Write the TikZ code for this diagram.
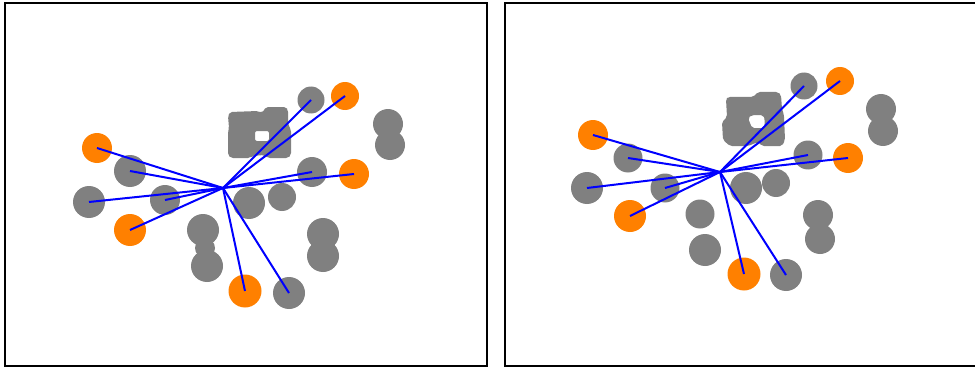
\documentclass[tikz,border=0pt]{standalone}
\definecolor{dotorange}{RGB}{255,128,0}
\definecolor{dotgray}{RGB}{128,128,128}
\definecolor{linkblue}{RGB}{0,0,255}

\begin{document}
\begin{tikzpicture}[x=1pt, y=-1pt]
    % Define styles
    \tikzstyle{pick} = [circle, fill=dotorange, inner sep=0pt, minimum size=30pt]
    \tikzstyle{cell} = [circle, fill=dotgray, inner sep=0pt, minimum size=30pt]
    \tikzstyle{ring} = [fill=dotgray, even odd rule, rounded corners=2pt]
    \tikzstyle{frame} = [draw=black, line width=2.5pt]
    \tikzstyle{relation} = [draw=linkblue, line width=2pt]

    \useasboundingbox (0,0) rectangle (975,369);

    % Frames
    \draw[frame] (5,3) rectangle (487,366);
    \draw[frame] (975,3) -- (505,3) -- (505,366) -- (975,366);

    % Left panel: gray cells
    \node[cell, minimum size=27pt] (lcell1) at (311,100) {};
    \path[ring] (228,116) -- (230,112) -- (258,111) -- (262,113) -- (266,107)
        -- (286,107) -- (288,110) -- (288,124) -- (291,130) -- (291,155)
        -- (288,158) -- (268,158) -- (264,155) -- (252,156) -- (250,158)
        -- (231,158) -- (228,155) -- (228,132) -- (229,128) -- cycle
        (255,131) -- (269,131) -- (269,141) -- (255,141) -- cycle;
    \node[cell] (lcell3a) at (388,124) {};
    \node[cell] (lcell3b) at (390,145) {};
    \node[cell] (lcell4) at (312,172) {};
    \node[cell, minimum size=32pt] (lcell5a) at (249,203) {};
    \node[cell, minimum size=28pt] (lcell5b) at (282,197) {};
    \node[cell, minimum size=32pt] (lcell6a) at (323,234) {};
    \node[cell, minimum size=32pt] (lcell6b) at (323,256) {};
    \node[cell, minimum size=32pt] (lcell7) at (289,293) {};
    \node[cell, minimum size=32pt] (lcell8a) at (203,230) {};
    \node[cell, minimum size=20pt] (lcell8n) at (205,248) {};
    \node[cell, minimum size=32pt] (lcell8b) at (207,266) {};
    \node[cell] (lcell9) at (165,200) {};
    \node[cell, minimum size=32pt] (lcell10) at (130,171) {};
    \node[cell, minimum size=32pt] (lcell11) at (89,202) {};

    % Left panel: orange picks
    \node[pick, minimum size=28pt] (lpick1) at (345,96) {};
    \node[pick] (lpick2) at (97,148) {};
    \node[pick] (lpick3) at (354,174) {};
    \node[pick, minimum size=32pt] (lpick4) at (130,230) {};
    \node[pick, minimum size=33pt] (lpick5) at (245,291) {};

    \coordinate (lhub) at (223,188);

    % Left panel: links
    \draw[relation] (lhub) -- (lpick1.center);
    \draw[relation] (lhub) -- (lpick2.center);
    \draw[relation] (lhub) -- (lpick3.center);
    \draw[relation] (lhub) -- (lpick4.center);
    \draw[relation] (lhub) -- (lpick5.center);
    \draw[relation] (lhub) -- (lcell1.center);
    \draw[relation] (lhub) -- (lcell4.center);
    \draw[relation] (lhub) -- (lcell7.center);
    \draw[relation] (lhub) -- (lcell9.center);
    \draw[relation] (lhub) -- (lcell10.center);
    \draw[relation] (lhub) -- (lcell11.center);

    % Right panel: gray cells
    \node[cell, minimum size=27pt] (rcell1) at (804,86) {};
    \path[ring] (726,99) -- (728,97) -- (753,97) -- (758,92) -- (778,92)
        -- (781,95) -- (782,109) -- (784,115) -- (785,140) -- (782,146)
        -- (762,146) -- (758,142) -- (748,146) -- (730,146) -- (723,140)
        -- (722,122) -- (727,117) -- cycle
        (748,118) -- (752,115) -- (763,115) -- (765,120) -- (764,128)
        -- (752,128) -- cycle;
    \node[cell] (rcell3a) at (881,109) {};
    \node[cell] (rcell3b) at (883,131) {};
    \node[cell, minimum size=29pt] (rcell4) at (808,155) {};
    \node[cell, minimum size=32pt] (rcell5a) at (746,188) {};
    \node[cell, minimum size=28pt] (rcell5b) at (776,183) {};
    \node[cell] (rcell6a) at (818,215) {};
    \node[cell] (rcell6b) at (820,239) {};
    \node[cell, minimum size=32pt] (rcell7) at (786,275) {};
    \node[cell, minimum size=29pt] (rcell8a) at (700,214) {};
    \node[cell, minimum size=32pt] (rcell8b) at (705,250) {};
    \node[cell, minimum size=29pt] (rcell9) at (665,188) {};
    \node[cell, minimum size=29pt] (rcell10) at (628,158) {};
    \node[cell, minimum size=32pt] (rcell11) at (587,188) {};

    % Right panel: orange picks
    \node[pick, minimum size=28pt] (rpick1) at (840,81) {};
    \node[pick] (rpick2) at (593,135) {};
    \node[pick] (rpick3) at (848,158) {};
    \node[pick, minimum size=32pt] (rpick4) at (630,216) {};
    \node[pick, minimum size=33pt] (rpick5) at (744,274) {};

    \coordinate (rhub) at (720,172);

    % Right panel: links
    \draw[relation] (rhub) -- (rpick1.center);
    \draw[relation] (rhub) -- (rpick2.center);
    \draw[relation] (rhub) -- (rpick3.center);
    \draw[relation] (rhub) -- (rpick4.center);
    \draw[relation] (rhub) -- (rpick5.center);
    \draw[relation] (rhub) -- (rcell1.center);
    \draw[relation] (rhub) -- (rcell4.center);
    \draw[relation] (rhub) -- (rcell7.center);
    \draw[relation] (rhub) -- (rcell9.center);
    \draw[relation] (rhub) -- (rcell10.center);
    \draw[relation] (rhub) -- (rcell11.center);

\end{tikzpicture}
\end{document}
